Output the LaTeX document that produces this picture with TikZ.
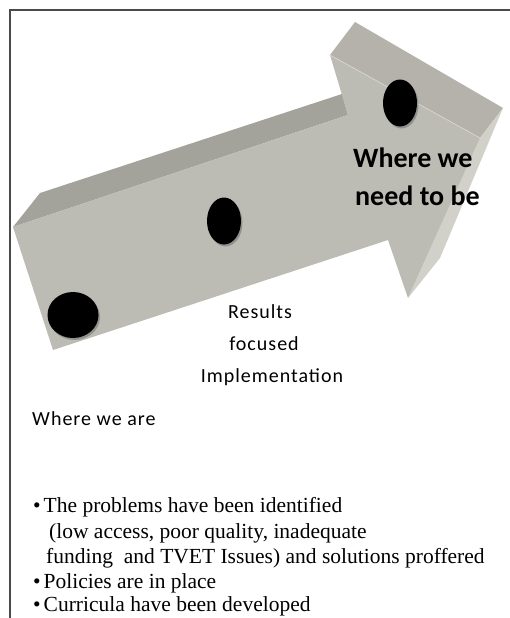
\documentclass[tikz,border=0pt]{standalone}
\usepackage{fontspec}
\setmainfont{Liberation Serif}
\newfontfamily\calfont{Carlito}
\usetikzlibrary{shapes.geometric,shadows}
\definecolor{facegrey}{HTML}{BCBCB4}
\definecolor{shafttop}{HTML}{A4A39B}
\definecolor{headtop}{HTML}{B4B2AA}
\definecolor{headside}{HTML}{D2D1C9}
\definecolor{framegrey}{HTML}{4A4A4A}
\tikzset{
  dot/.style={ellipse, fill=black, inner sep=0pt,
    drop shadow={shadow xshift=1.5pt, shadow yshift=-2pt, fill=gray, opacity=.7}},
  stagetext/.style={font=\calfont\addfontfeature{LetterSpace=5}\fontsize{20}{20}\selectfont, anchor=base, inner sep=0pt},
  listtext/.style={font=\fontsize{21.5}{21.5}\selectfont, anchor=base west, inner sep=0pt}
}
\begin{document}
\begin{tikzpicture}[x=1pt,y=-1pt]
\useasboundingbox (0,0) rectangle (510,618);
\fill[white] (0,0) rectangle (510,618);
\draw[framegrey, line width=2pt] (10,620) -- (10,10) -- (512,10);
% arrow
\fill[shafttop] (13,227) -- (40,193) -- (342,94) -- (348,115) -- cycle;
\fill[headtop] (330,55) -- (355,22) -- (503,108) -- (480,138) -- cycle;
\fill[headside] (480,138) -- (503,108) -- (440,258) -- (408,298) -- cycle;
\fill[facegrey] (13,227) -- (348,115) -- (330,55) -- (480,138) -- (408,298)
  -- (388,240) -- (53,350) -- cycle;
\draw[white!50!facegrey, line width=0.5pt] (330,55) -- (480,138);
% dots
\node[dot, minimum width=51pt, minimum height=46pt] (start) at (73,315) {};
\node[dot, minimum width=34pt, minimum height=47pt] (mid) at (224,221) {};
\node[dot, minimum width=34pt, minimum height=47pt] (goal) at (400,103) {};
% texts
\node[font=\calfont\bfseries\fontsize{28}{28}\selectfont, anchor=base west, inner sep=0pt] (need1) at (353,167) {Where we};
\node[font=\calfont\bfseries\fontsize{28}{28}\selectfont, anchor=base west, inner sep=0pt] (need2) at (355,205) {need to be};
\node[stagetext] (res1) at (260,318) {Results};
\node[stagetext] (res2) at (264,350) {focused};
\node[stagetext] (res3) at (272,382) {Implementation};
\node[stagetext, anchor=base west] (now) at (32,425) {Where we are};
\node[listtext] (item1) at (33,512) {\textbullet\hspace{3pt}The problems have been identified};
\node[listtext] (item1b) at (49,538) {(low access, poor quality, inadequate};
\node[listtext] (item1c) at (46,563) {funding\ \ and TVET Issues) and solutions proffered};
\node[listtext] (item2) at (33,588) {\textbullet\hspace{3pt}Policies are in place};
\node[listtext] (item3) at (33,611) {\textbullet\hspace{3pt}Curricula have been developed};
\end{tikzpicture}
\end{document}
